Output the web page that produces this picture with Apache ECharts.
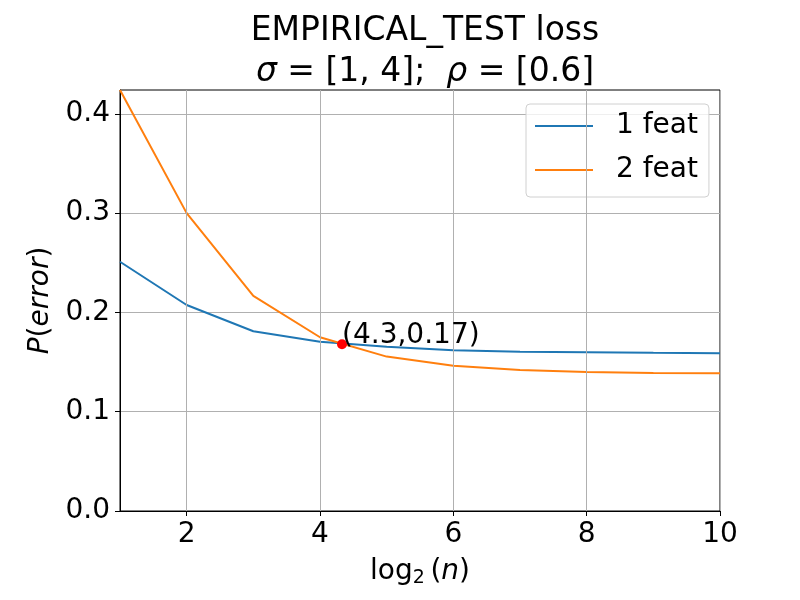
<!DOCTYPE html>
<html>
<head>
<meta charset="utf-8">
<script src="https://cdn.jsdelivr.net/npm/echarts@6/dist/echarts.min.js"></script>
<style>
html,body{margin:0;padding:0;background:#fff;}
#main{width:800px;height:600px;}
</style>
</head>
<body>
<div id="main"></div>
<script>
// data
var logN = [1, 2, 3, 4, 5, 6, 7, 8, 9, 10];
var feat1 = [0.251, 0.2075, 0.181, 0.1705, 0.1655, 0.162, 0.1605, 0.160, 0.1593, 0.159];
var feat2 = [0.424, 0.300, 0.2166, 0.175, 0.1555, 0.1464, 0.142, 0.140, 0.139, 0.1387];
var crossPoint = [4.33, 0.168];
var crossLabel = '(4.3,0.17)';
var xTicks = [2, 4, 6, 8, 10];
var yTicks = [0, 0.1, 0.2, 0.3, 0.4];

var FONT = 'DejaVu Sans';

function pairs(xs, ys) {
    var out = [];
    for (var i = 0; i < xs.length; i++) out.push([xs[i], ys[i]]);
    return out;
}

var chart = echarts.init(document.getElementById('main'));

var option = {
    backgroundColor: '#fff',
    animation: false,
    title: {
        text: 'EMPIRICAL_TEST loss\n{i|σ} = [1, 4];  {i|ρ} = [0.6]',
        left: 420,
        top: 6,
        textAlign: 'center',
        textStyle: {
            fontFamily: FONT,
            fontSize: 33,
            fontWeight: 'normal',
            color: '#000',
            lineHeight: 41,
            rich: {
                i: {fontFamily: FONT, fontSize: 33, fontStyle: 'italic', color: '#000', lineHeight: 41}
            }
        }
    },
    grid: {
        left: 120, right: 80, top: 90, bottom: 89,
        show: true,
        borderColor: '#000',
        borderWidth: 1,
        backgroundColor: 'transparent'
    },
    legend: {
        orient: 'vertical',
        left: 526,
        top: 104,
        padding: [8, 11, 13, 9],
        itemGap: 16,
        itemWidth: 58,
        itemHeight: 2,
        icon: 'rect',
        backgroundColor: 'rgba(255,255,255,0.8)',
        borderColor: '#d0d0d0',
        borderWidth: 1,
        borderRadius: 4,
        data: ['1 feat', '2 feat'],
        textStyle: {
            fontFamily: FONT, fontSize: 28, color: '#000',
            lineHeight: 28, padding: [0, 0, 0, 18]
        }
    },
    xAxis: {
        type: 'value',
        min: 1,
        max: 10,
        interval: 1,
        name: 'log{sub|2}\u2009({i|n})',
        nameLocation: 'middle',
        nameGap: 44,
        nameTextStyle: {
            fontFamily: FONT, fontSize: 28, color: '#000',
            rich: {
                sub: {fontFamily: FONT, fontSize: 19, color: '#000', verticalAlign: 'bottom', padding: [14, 0, 0, 0]},
                i: {fontFamily: FONT, fontSize: 28, fontStyle: 'italic', color: '#000'}
            }
        },
        axisLine: {show: true, lineStyle: {color: '#000', width: 1}},
        axisTick: {show: true, length: 5, customValues: xTicks, lineStyle: {color: '#000'}},
        axisLabel: {
            customValues: xTicks,
            fontFamily: FONT, fontSize: 28, color: '#000', margin: 10
        },
        splitLine: {show: false}
    },
    yAxis: {
        type: 'value',
        min: 0,
        max: 0.424,
        interval: 0.1,
        name: '{i|P}({i|error})',
        nameLocation: 'middle',
        nameGap: 62,
        nameRotate: 90,
        nameTextStyle: {
            fontFamily: FONT, fontSize: 28, color: '#000',
            rich: {i: {fontFamily: FONT, fontSize: 28, fontStyle: 'italic', color: '#000'}}
        },
        axisLine: {show: true, lineStyle: {color: '#000', width: 1}},
        axisTick: {show: true, length: 5, customValues: yTicks, lineStyle: {color: '#000'}},
        axisLabel: {
            customValues: yTicks,
            fontFamily: FONT, fontSize: 28, color: '#000', margin: 10,
            formatter: function (v) { return v.toFixed(1); }
        },
        splitLine: {show: true, lineStyle: {color: '#b0b0b0', width: 1}}
    },
    series: [
        {
            // vertical grid lines at the major x ticks
            name: 'grid',
            type: 'line',
            data: [],
            z: 1,
            silent: true,
            markLine: {
                silent: true,
                symbol: 'none',
                label: {show: false},
                lineStyle: {color: '#b0b0b0', width: 1, type: 'solid'},
                data: xTicks.map(function (v) { return {xAxis: v}; })
            }
        },
        {
            name: '1 feat',
            type: 'line',
            data: pairs(logN, feat1),
            symbol: 'none',
            z: 3,
            lineStyle: {color: '#1f77b4', width: 2},
            itemStyle: {color: '#1f77b4'}
        },
        {
            name: '2 feat',
            type: 'line',
            data: pairs(logN, feat2),
            symbol: 'none',
            z: 3,
            lineStyle: {color: '#ff7f0e', width: 2},
            itemStyle: {color: '#ff7f0e'}
        },
        {
            name: 'cross',
            type: 'scatter',
            data: [crossPoint],
            symbolSize: 10,
            z: 5,
            itemStyle: {color: '#ff0000', opacity: 1},
            label: {
                show: true,
                formatter: crossLabel,
                position: [5, 5],
                align: 'left',
                verticalAlign: 'bottom',
                offset: [0, 6],
                fontFamily: FONT,
                fontSize: 28,
                color: '#000',
                opacity: 1,
                textBorderWidth: 0
            }
        }
    ]
};

chart.setOption(option);
</script>
</body>
</html>
